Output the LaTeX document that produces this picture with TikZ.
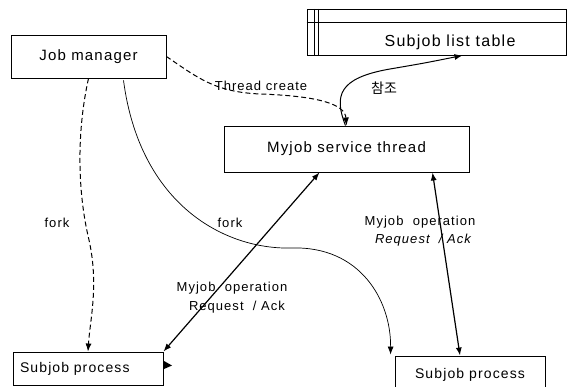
\documentclass[tikz,border=0pt]{standalone}
\usepackage{fontspec}
\setmainfont{Liberation Sans}[LetterSpace=8]
\newfontfamily\krfont{Noto Sans CJK KR}
\usetikzlibrary{arrows.meta,calc}
\tikzset{
  box/.style={draw, line width=0.9pt, inner sep=0pt, font=\fontsize{14}{16}\selectfont},
  lbl/.style={font=\fontsize{13}{15}\selectfont, align=center, inner sep=0pt},
  arrowtip/.style={-{Latex[length=8pt,width=6pt]}},
  biarrow/.style={{Latex[length=8pt,width=6pt]}-{Latex[length=8pt,width=6pt]}},
  flow/.style={line width=1.2pt},
  dashline/.style={line width=1pt, dash pattern=on 5pt off 3pt},
}
\begin{document}
\begin{tikzpicture}[x=1pt,y=-1pt]
\useasboundingbox (0,0) rectangle (572,387);
\clip (0,0) rectangle (572,387);

% boxes
\node[box, minimum width=155pt, minimum height=43pt, font=\fontsize{15}{17}\selectfont] (jm) at (88.5,56.5) {Job manager};
\node[box, minimum width=259pt, minimum height=46pt] (tbl) at (436.5,32) {};
\draw[line width=0.9pt] (tbl.west |- 0,22) -- (tbl.east |- 0,22);
\draw[line width=0.9pt] (314,9) -- (314,55);
\draw[line width=0.9pt] (318,9) -- (318,55);
\node[lbl, font=\fontsize{16}{18}\selectfont] (tbltxt) at (450,42) {Subjob list table};
\node[box, minimum width=245pt, minimum height=46pt, font=\fontsize{15}{17}\selectfont] (mst) at (346.5,149) {Myjob service thread};
\node[box, minimum width=150pt, minimum height=33pt, text width=136pt, align=left] (sp1) at (88,368.5) {Subjob process};
\node[box, minimum width=150pt, minimum height=38pt] (sp2) at (470,375) {Subjob process};

% thread creation
\draw[dashline, arrowtip] (jm.east) .. controls (198,78) and (215,92) .. (260,94)
  .. controls (318,96) and (345,104) .. (mst.north);
\node[lbl] (tc) at (261,86) {Thread create};

% reference to the subjob list table
\coordinate (tblref) at ($(tbl.south west)!0.6!(tbl.south east)$);
\draw[line width=1pt, arrowtip] ($(mst.north)+(-1,0)$) .. controls (334,96) and (338,78) .. (390,69)
  .. controls (425,63) .. (tblref);
\node[lbl, font=\krfont\fontsize{14}{16}\selectfont] (ref) at (384,88) {참조};

% fork arrows
\draw[dashline, arrowtip] (jm.south) .. controls (77,130) and (77,190) .. (89,240)
  .. controls (99,285) and (90,320) .. (sp1.north);
\node[lbl] (fork1) at (57,223) {fork};
\coordinate (jmfork) at ($(jm.south)+(35,2)$);
\draw[line width=0.7pt, arrowtip] (jmfork) .. controls (140,205) and (225,250) .. (292,248)
  .. controls (360,246) and (391,300) .. ($(sp2.north west)+(-4,-1)$);
\node[lbl] (fork2) at (230,223) {fork};

% request / acknowledge links
\draw[flow, biarrow] ($(mst.south)+(-27,0)$) -- (sp1.north east);
\node[lbl] (op1) at (232,288) {Myjob\ \ operation};
\node[lbl] (ra1) at (237,307) {Request\ \ / Ack};
\draw[flow, biarrow] ($(mst.south)+(86,0)$) -- ($(sp2.north)+(-10,0)$);
\node[lbl] (op2) at (420,222) {Myjob\ \ operation};
\node[lbl, font=\fontsize{13}{15}\selectfont\itshape] (ra2) at (423,240) {Request\ \ / Ack};

% small mark beside the left process box
\fill (164,361) -- (172,365.5) -- (164,369) -- cycle;
\end{tikzpicture}
\end{document}
